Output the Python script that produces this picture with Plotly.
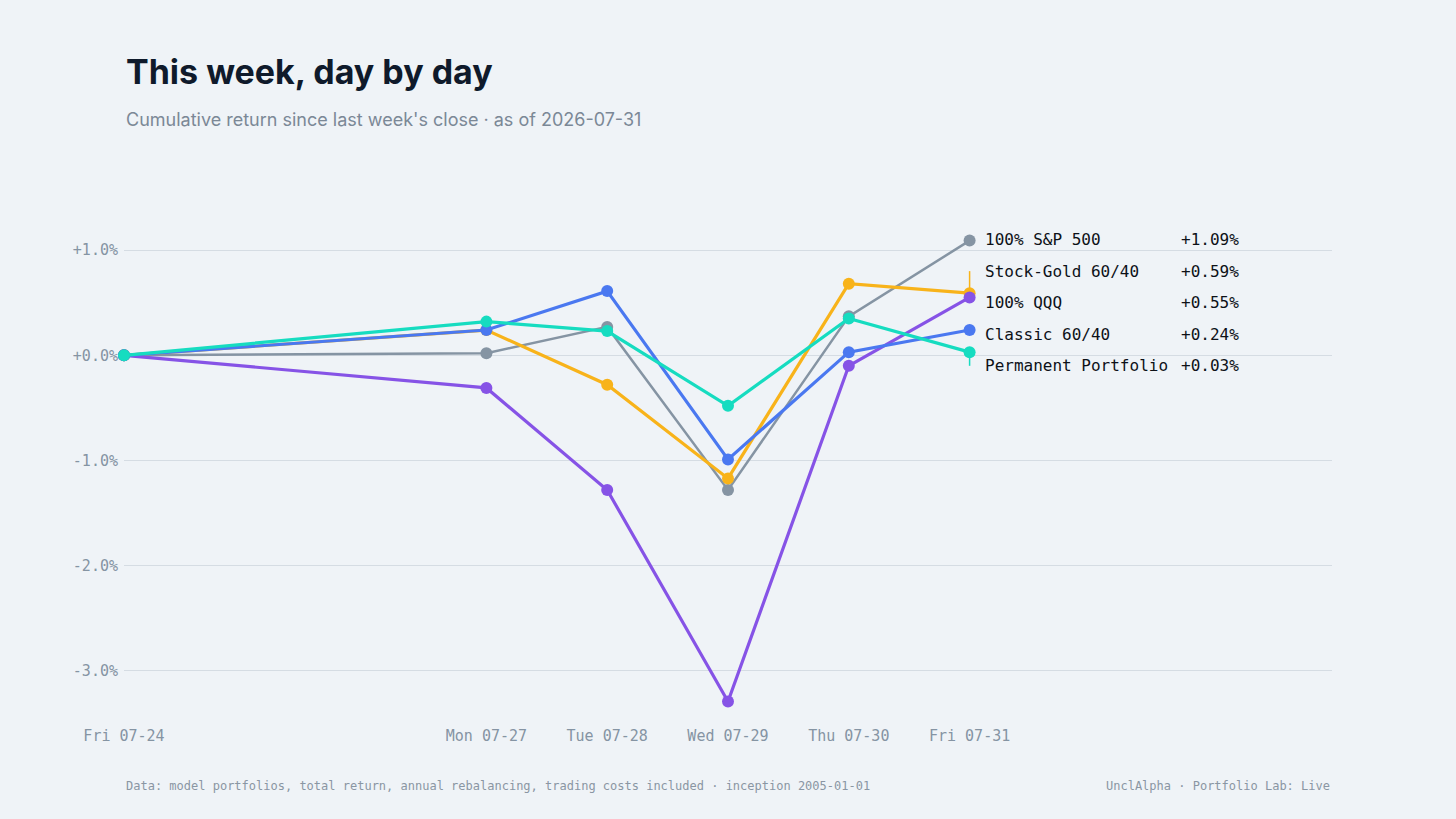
import plotly.graph_objects as go

# Data
DATES = ["2026-07-24", "2026-07-27", "2026-07-28", "2026-07-29", "2026-07-30", "2026-07-31"]
DATE_LABELS = ["Fri 07-24", "Mon 07-27", "Tue 07-28", "Wed 07-29", "Thu 07-30", "Fri 07-31"]

SERIES_NAMES = ["100% S&P 500", "Stock-Gold 60/40", "100% QQQ", "Classic 60/40", "Permanent Portfolio"]
SP500 = [0.0, 0.02, 0.27, -1.28, 0.37, 1.09]
STOCK_GOLD = [0.0, 0.24, -0.28, -1.17, 0.68, 0.59]
QQQ = [0.0, -0.31, -1.28, -3.29, -0.10, 0.55]
CLASSIC = [0.0, 0.24, 0.61, -0.99, 0.03, 0.24]
PERMANENT = [0.0, 0.32, 0.23, -0.48, 0.35, 0.03]

Y_TICKS = [1.0, 0.0, -1.0, -2.0, -3.0]
Y_TICK_LABELS = ["+1.0%", "+0.0%", "-1.0%", "-2.0%", "-3.0%"]

COLORS = ["#8594a3", "#f8b31a", "#8653e6", "#4a78f0", "#16dcc0"]
BG = "#eff3f7"
MONO = "DejaVu Sans Mono"
SANS = "Inter"

Y_RANGE = [-3.4, 1.4]
LABEL_GAP = 0.3


def spread_labels(values, gap):
    # push end labels apart, keeping each cluster centred on its values
    order = sorted(range(len(values)), key=lambda i: -values[i])
    groups = [[i] for i in order]
    changed = True
    while changed:
        changed = False
        pos = []
        for g in groups:
            mean = sum(values[i] for i in g) / len(g)
            pos.append(mean + gap * (len(g) - 1) / 2)
        for k in range(len(groups) - 1):
            bottom_k = pos[k] - gap * (len(groups[k]) - 1)
            if bottom_k - pos[k + 1] < gap - 1e-9:
                groups[k] = groups[k] + groups[k + 1]
                del groups[k + 1]
                changed = True
                break
    out = [0.0] * len(values)
    for g in groups:
        mean = sum(values[i] for i in g) / len(g)
        top = mean + gap * (len(g) - 1) / 2
        for j, i in enumerate(g):
            out[i] = top - j * gap
    return out


all_series = [SP500, STOCK_GOLD, QQQ, CLASSIC, PERMANENT]
last_vals = [s[-1] for s in all_series]
label_y = spread_labels(last_vals, LABEL_GAP)

fig = go.Figure()

# leader lines from last point to displaced labels
for s, ly, color in zip(all_series, label_y, COLORS):
    fig.add_trace(go.Scatter(
        x=[DATES[-1], DATES[-1]], y=[s[-1], ly],
        mode="lines", line=dict(color=color, width=1.5),
        hoverinfo="skip", showlegend=False, cliponaxis=False,
    ))

for i, s in enumerate(all_series):
    fig.add_trace(go.Scatter(
        x=DATES, y=s, name=SERIES_NAMES[i],
        mode="lines+markers",
        line=dict(color=COLORS[i], width=2.5 if i == 0 else 3.2),
        marker=dict(color=COLORS[i], size=12),
        showlegend=False, cliponaxis=False,
    ))

for name, val, ly in zip(SERIES_NAMES, last_vals, label_y):
    fig.add_annotation(
        x=DATES[-1], y=ly, text=name, showarrow=False,
        xanchor="left", yanchor="middle", xshift=13,
        font=dict(family=MONO, size=16, color="#0d1117"),
    )
    fig.add_annotation(
        x=DATES[-1], y=ly, text=f"{val:+.2f}%", showarrow=False,
        xanchor="right", yanchor="middle", xshift=271,
        font=dict(family=MONO, size=16, color="#0d1117"),
    )

fig.add_annotation(
    x=0, y=-0.144, xref="paper", yref="paper",
    text="Data: model portfolios, total return, annual rebalancing, trading costs included · inception 2005-01-01",
    showarrow=False, xanchor="left", yanchor="middle",
    font=dict(family=MONO, size=12, color="#8a96a3"),
)
fig.add_annotation(
    x=1, y=-0.144, xref="paper", yref="paper", text="UnclAlpha · Portfolio Lab: Live",
    showarrow=False, xanchor="right", yanchor="middle",
    font=dict(family=MONO, size=12, color="#8a96a3"),
)

fig.add_annotation(
    x=0, y=1.27, xref="paper", yref="paper", text="<b>This week, day by day</b>",
    showarrow=False, xanchor="left", yanchor="middle",
    font=dict(family=SANS, size=34, color="#0f1a2b"),
)
fig.add_annotation(
    x=0, y=1.175, xref="paper", yref="paper", text="Cumulative return since last week's close · as of 2026-07-31",
    showarrow=False, xanchor="left", yanchor="middle",
    font=dict(family=SANS, size=18, color="#7b8896"),
)

fig.update_layout(
    width=1456, height=819,
    paper_bgcolor=BG, plot_bgcolor=BG,
    margin=dict(l=124, r=124, t=208, b=106),
    showlegend=False,
    xaxis=dict(
        type="date", range=["2026-07-24", "2026-08-03"],
        tickvals=DATES, ticktext=DATE_LABELS,
        showgrid=False, zeroline=False, showline=False, ticks="",
        ticklabelstandoff=12,
        tickfont=dict(family=MONO, size=15, color="#8594a3"),
    ),
    yaxis=dict(
        range=Y_RANGE, tickvals=Y_TICKS, ticktext=Y_TICK_LABELS,
        showgrid=True, gridcolor="#d5dce3", gridwidth=1,
        zeroline=False, showline=False, ticks="",
        ticklabelstandoff=5,
        tickfont=dict(family=MONO, size=15, color="#8594a3"),
    ),
)

fig.write_html(
    "out.html",
    config={"displayModeBar": False},
    post_script="document.body.style.margin='0';document.body.style.background='%s';" % BG,
)
